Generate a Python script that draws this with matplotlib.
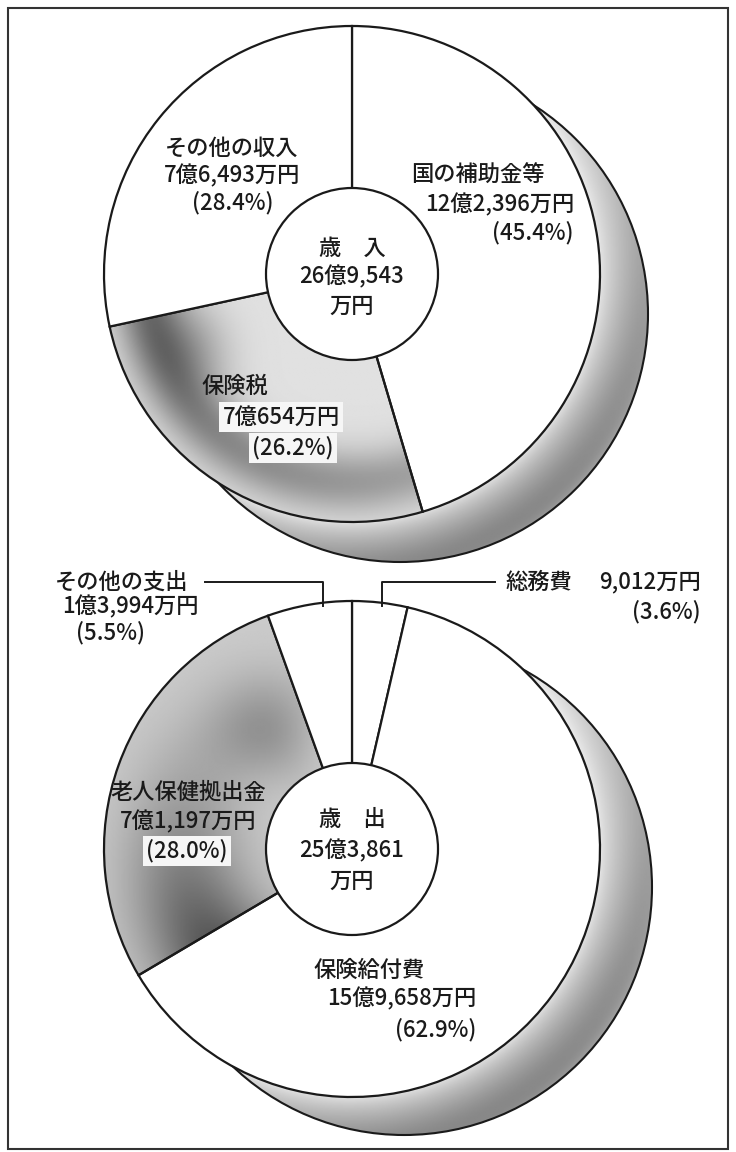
import numpy as np
import matplotlib.pyplot as plt
from matplotlib.patches import Circle, Rectangle

plt.rcParams['font.family'] = ['Noto Sans CJK JP', 'DejaVu Sans']

# 歳入
income_labels = ['国の補助金等', '保険税', 'その他の収入']
income_amounts = ['12億2,396万円', '7億654万円', '7億6,493万円']
income_shares = [45.4, 26.2, 28.4]
income_title = '歳　入'
income_total = ['26億9,543', '万円']

# 歳出
expense_labels = ['総務費', '保険給付費', '老人保健拠出金', 'その他の支出']
expense_amounts = ['9,012万円', '15億9,658万円', '7億1,197万円', '1億3,994万円']
expense_shares = [3.6, 62.9, 28.0, 5.5]
expense_title = '歳　出'
expense_total = ['25億3,861', '万円']

W, H = 736, 1152
R = 248
R_IN = 86
INK = '#1a1a1a'
FS = 16

fig = plt.figure(figsize=(W / 100, H / 100), dpi=100)
ax = fig.add_axes([0, 0, 1, 1])


def to_y(y):
    return H - y


def polar(c, X, Y):
    d = np.hypot(X - c[0], Y - c[1]) / R
    th = (90 - np.degrees(np.arctan2(Y - c[1], X - c[0]))) % 360
    return d, th


def shade(patch, c, func, z):
    x = np.linspace(c[0] - R, c[0] + R, 400)
    y = np.linspace(c[1] - R, c[1] + R, 400)
    X, Y = np.meshgrid(x, y)
    rr, th = polar(c, X, Y)
    im = ax.imshow(func(rr, th), extent=(x[0], x[-1], y[0], y[-1]), origin='lower',
                   cmap='gray_r', vmin=0, vmax=1, zorder=z, interpolation='bilinear')
    im.set_clip_path(patch)


def draw_pie(cx, cy, shares, off, wedge_shades):
    c = (cx, to_y(cy))
    sc = (cx + off[0], to_y(cy + off[1]))

    # 影
    shadow = Circle(sc, R, facecolor='white', edgecolor='none', zorder=1)
    ax.add_patch(shadow)
    x = np.linspace(sc[0] - R, sc[0] + R, 400)
    y = np.linspace(sc[1] - R, sc[1] + R, 400)
    X, Y = np.meshgrid(x, y)
    dm = np.hypot(X - c[0], Y - c[1])
    t = np.clip((dm - R) / np.hypot(*off), 0, 1)
    ang = np.arctan2(Y - c[1], X - c[0])
    a = 0.5 + 0.5 * np.cos(ang - np.radians(-65))
    dark = (0.1 + 0.5 * t ** 0.7) * (0.3 + 0.7 * a) * (1 - 0.35 * t ** 5)
    im = ax.imshow(dark, extent=(x[0], x[-1], y[0], y[-1]), origin='lower',
                   cmap='gray_r', vmin=0, vmax=1, zorder=1.2, interpolation='bilinear')
    im.set_clip_path(shadow)
    ax.add_patch(Circle(sc, R, fill=False, edgecolor=INK, lw=1.5, zorder=1.4))

    ax.add_patch(Circle(c, R, facecolor='white', edgecolor='none', zorder=1.6))
    wedges, _ = ax.pie(shares, startangle=90, counterclock=False, radius=R, center=c,
                       colors=['white'] * len(shares), frame=True,
                       wedgeprops=dict(edgecolor=INK, linewidth=1.6))
    for i, w in enumerate(wedges):
        w.set_zorder(2)
        if i in wedge_shades:
            w.set_facecolor('none')
            shade(w, c, wedge_shades[i], 1.8)

    ax.add_patch(Circle(c, R_IN, facecolor='white', edgecolor=INK, lw=1.6, zorder=3))
    return c


def tax_shade(rr, th):
    u = np.clip((th - 163.4) / 94.3, 0, 1)
    band = np.exp(-((rr - 0.84) / 0.13) ** 2) * (0.6 + 0.4 * u)
    side = np.exp(-((u - 0.88) / 0.18) ** 2) * np.exp(-((rr - 0.7) / 0.15) ** 2)
    return np.clip(0.12 + 0.42 * band + 0.2 * side, 0, 1)


def elder_shade(rr, th):
    u = np.clip((th - 239.4) / 100.8, 0, 1)
    low = (1 - u) ** 1.5 * np.exp(-((rr - 0.68) / 0.25) ** 2)
    top = np.exp(-((u - 0.85) / 0.2) ** 2) * np.exp(-((rr - 0.6) / 0.22) ** 2)
    return np.clip(0.2 + 0.45 * low + 0.2 * top, 0, 1)


top_c = draw_pie(352, 274, income_shares, (48, 40), {1: tax_shade})
bot_c = draw_pie(352, 849, expense_shares, (52, 38), {2: elder_shade})


def label(x, y, s, ha='center', box=False):
    kw = {}
    if box:
        kw['bbox'] = dict(boxstyle='square,pad=0.15', facecolor='#f6f6f6', edgecolor='none')
    ax.text(x, to_y(y), s, ha=ha, va='center', fontsize=FS, color=INK,
            fontweight='medium', zorder=5, **kw)


def pct(v):
    return f'({v:.1f}%)'


# 歳入のラベル
label(478, 175, income_labels[0])
label(574, 205, income_amounts[0], ha='right')
label(574, 233, pct(income_shares[0]), ha='right')
label(235, 386, income_labels[1])
label(281, 417, income_amounts[1], box=True)
label(293, 448, pct(income_shares[1]), box=True)
label(232, 148, income_labels[2])
label(232, 176, income_amounts[2])
label(233, 203, pct(income_shares[2]))
label(352, 248, income_title)
label(352, 277, income_total[0])
label(352, 306, income_total[1])

# 歳出のラベル
label(505, 582, expense_labels[0], ha='left')
label(701, 582, expense_amounts[0], ha='right')
label(701, 612, pct(expense_shares[0]), ha='right')
label(369, 970, expense_labels[1])
label(476, 999, expense_amounts[1], ha='right')
label(476, 1030, pct(expense_shares[1]), ha='right')
label(188, 792, expense_labels[2])
label(188, 822, expense_amounts[2])
label(187, 851, pct(expense_shares[2]), box=True)
label(122, 582, expense_labels[3])
label(130, 607, expense_amounts[3])
label(110, 633, pct(expense_shares[3]))
label(352, 820, expense_title)
label(352, 851, expense_total[0])
label(352, 881, expense_total[1])

# 引き出し線
ax.plot([205, 323, 323], [to_y(582), to_y(582), to_y(606)], color=INK, lw=1.4, zorder=4)
ax.plot([495, 382, 382], [to_y(582), to_y(582), to_y(606)], color=INK, lw=1.4, zorder=4)

# 枠
ax.add_patch(Rectangle((8, to_y(1149)), 720, 1141, fill=False, edgecolor='#333333', lw=1.5, zorder=6))

ax.set_xlim(0, W)
ax.set_ylim(0, H)
ax.set_aspect('equal')
ax.axis('off')

fig.savefig('out.png', dpi=100, facecolor='white')
